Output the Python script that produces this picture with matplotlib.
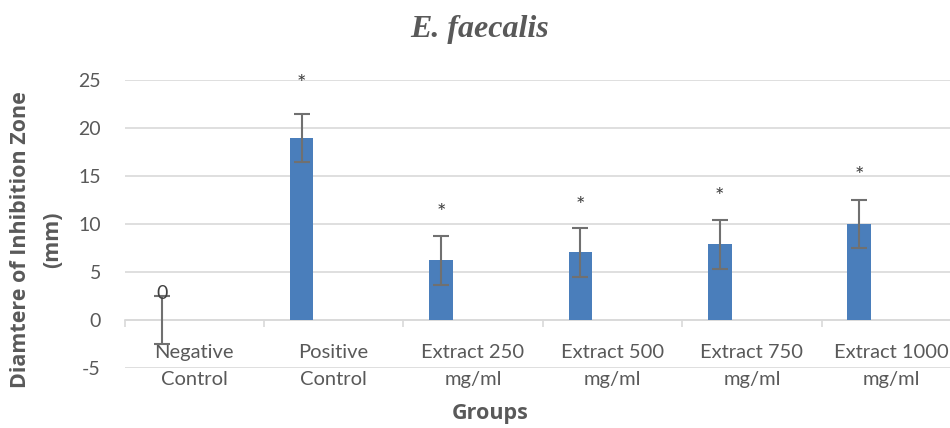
import matplotlib
matplotlib.use("Agg")
import matplotlib.pyplot as plt
import numpy as np

categories = ["Negative\nControl", "Positive\nControl", "Extract 250\nmg/ml",
              "Extract 500\nmg/ml", "Extract 750\nmg/ml", "Extract 1000\nmg/ml"]
means = [0.0, 19.0, 6.2, 7.05, 7.9, 10.0]
errors = [2.5, 2.5, 2.55, 2.55, 2.55, 2.5]
labels = ["0", "*", "*", "*", "*", "*"]
label_y = [2.8, 24.6, 11.1, 11.9, 12.8, 15.0]
yticks = [-5, 0, 5, 10, 15, 20, 25]

text_col = "#595959"
bar_col = "#4A7EBB"
grid_col = "#D9D9D9"

plt.rcParams['font.family'] = ['Lato', 'DejaVu Sans']

fig = plt.figure(figsize=(9.5, 4.28), dpi=100)
ax = fig.add_axes([124.5/950, (428-368)/428, (961-124.5)/950, 288/428])

for s in ['top', 'right', 'left']:
    ax.spines[s].set_visible(False)
ax.spines['bottom'].set_position(('data', 0))
ax.spines['bottom'].set_color(grid_col)
ax.spines['bottom'].set_linewidth(1.2)

x = np.arange(len(categories))
offset = -0.23
ax.bar(x + offset, means, width=0.17, color=bar_col, zorder=3)
ax.errorbar(x + offset, means, yerr=errors, fmt='none', ecolor='#707070',
            elinewidth=1.5, capsize=6, capthick=1.5, zorder=4)
for xi, t, yv in zip(x + offset, labels, label_y):
    fs = 14 if t == "0" else 16
    ax.text(xi, yv, t, ha='center', va='center', fontsize=fs, color='#404040', zorder=5)

ax.set_xlim(-0.5, len(categories) - 0.5)
ax.set_ylim(-5, 25)
ax.set_yticks(yticks)
ax.set_yticklabels([str(v) for v in yticks])
ax.yaxis.grid(True, color=grid_col, lw=1.2)
ax.set_axisbelow(True)
ax.tick_params(axis='y', length=0, pad=17, labelsize=14, labelcolor=text_col)

ax.set_xticks(np.arange(-0.5, len(categories) + 0.5, 1.0))
ax.set_xticklabels([])
ax.set_xticks(x, minor=True)
ax.tick_params(axis='x', which='major', length=5, color=grid_col, width=1.2, direction='out')
ax.tick_params(axis='x', which='minor', length=0, pad=17, labelsize=14.5, labelcolor=text_col)
ax.set_xticklabels(categories, minor=True, color=text_col, linespacing=1.75)

fig.text(480/950, 1 - 30/428, "E. faecalis", ha='center', va='center',
         fontsize=23, fontweight='bold', fontstyle='italic',
         family=['Liberation Serif'], color=text_col)
fig.text(490/950, 1 - 414/428, "Groups", ha='center', va='center',
         fontsize=15.5, fontweight='bold', family=['Open Sans'], color=text_col)
fig.text(21/950, 1 - 240/428, "Diamtere of Inhibition Zone", ha='center', va='center',
         rotation=90, fontsize=15.5, fontweight='bold', family=['Open Sans'], color=text_col)
fig.text(53/950, 1 - 240/428, "(mm)", ha='center', va='center',
         rotation=90, fontsize=15.5, fontweight='bold', family=['Open Sans'], color=text_col)

fig.savefig("out.png", dpi=100, facecolor='white')
